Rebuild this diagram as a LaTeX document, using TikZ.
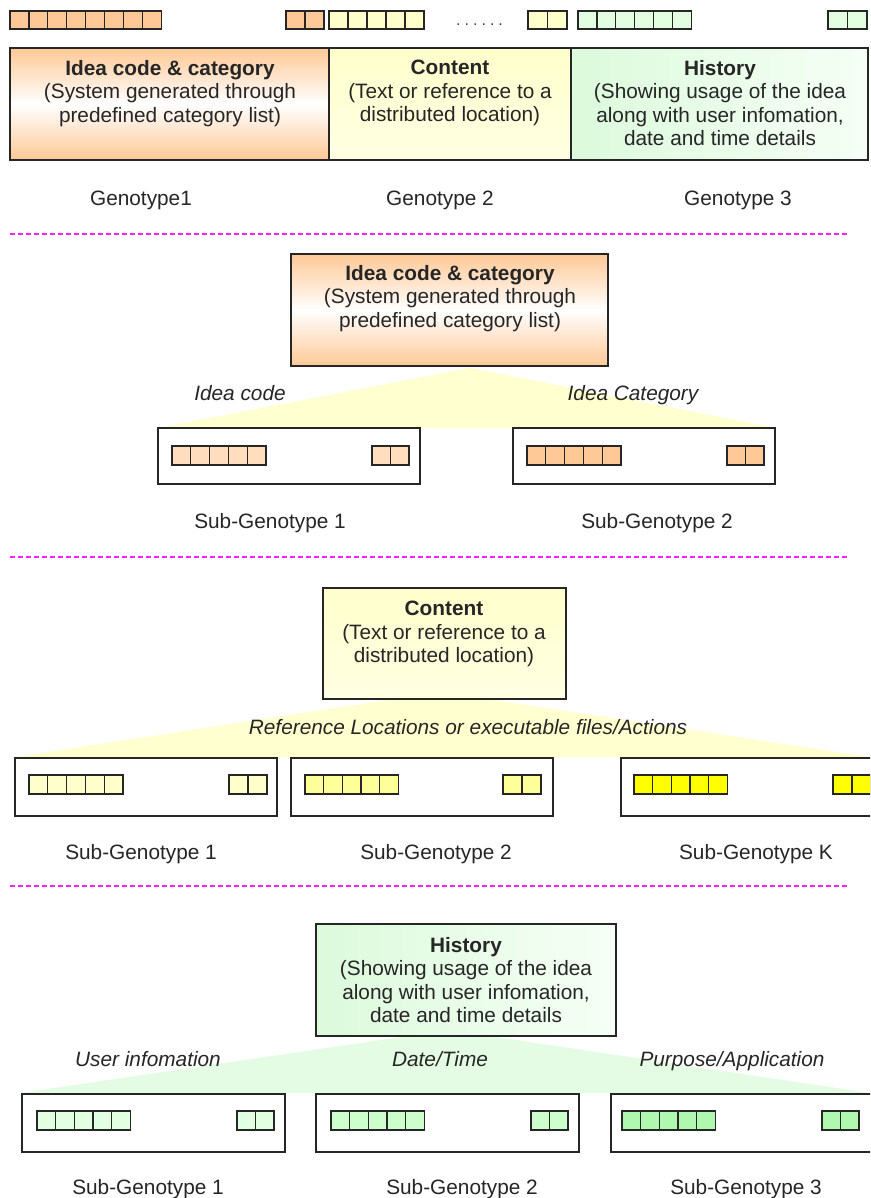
\documentclass[tikz,border=0pt]{standalone}
\usepackage{fontspec}
\setmainfont{Liberation Sans}
\begin{document}
\definecolor{orgA}{HTML}{FFC896}
\definecolor{orgB}{HTML}{FFDDBD}
\definecolor{ylwA}{HTML}{FFFFCC}
\definecolor{ylwB}{HTML}{FFFF99}
\definecolor{ylwC}{HTML}{FFFF00}
\definecolor{grnA}{HTML}{E2FFE2}
\definecolor{grnB}{HTML}{CCFFCC}
\definecolor{grnC}{HTML}{B0F7B0}
\definecolor{grnL}{HTML}{DCFADC}
\definecolor{grnR}{HTML}{F6FFF6}
\definecolor{fanY}{HTML}{FFFFCF}
\definecolor{fanG}{HTML}{E4FCE4}
\definecolor{sepline}{HTML}{FF22FF}
\definecolor{ink}{HTML}{262626}
\newcommand\gcells[6]{% left, top, count, cell width, cell height, fill
  \foreach \k in {1,...,#3}{%
    \draw[cellline, fill=#6] ({#1+(\k-1)*#4},#2) rectangle ++(#4,#5);}}
\begin{tikzpicture}[x=1pt, y=-1pt,
  cellline/.style={draw=ink, line width=1.3pt},
  boxline/.style={draw=ink, line width=1.5pt},
  orgshade/.style={boxline, top color=orgA, bottom color=orgA, middle color=white},
  ylwshade/.style={boxline, top color=ylwA, bottom color=ylwA!55},
  grnshade/.style={boxline, left color=grnL, right color=grnR},
  subbox/.style={draw=ink, line width=1.4pt, fill=white},
  sep/.style={draw=sepline, line width=1.2pt, dash pattern=on 5pt off 3pt},
  txt/.style={font=\fontsize{20.8}{23.5}\selectfont, text=ink, inner sep=0pt},
  hdr/.style={txt, align=center, anchor=north},
  lbl/.style={txt, anchor=base},
  ilbl/.style={txt, anchor=base, font=\fontsize{20.8}{23.5}\selectfont\itshape}]
\useasboundingbox (0,0) rectangle (870,1198);
\fill[white] (0,0) rectangle (870,1198);
\clip (0,0) rectangle (870,1198);

% ---------- genome strip ----------
\gcells{10}{11}{8}{18.9}{18}{orgA}
\gcells{286}{11}{2}{19}{18}{orgA}
\gcells{329}{11}{5}{19}{18}{ylwA}
\node[txt, anchor=base west, font=\fontsize{16}{18}\selectfont, text=black!75] (dots)
  at (456,26) {.\kern4pt.\kern4pt.\kern4pt.\kern4pt.\kern4pt.};
\gcells{528}{11}{2}{19.5}{18}{ylwA}
\gcells{578}{11}{6}{18.9}{18}{grnA}
\gcells{828}{11}{2}{19.5}{18}{grnA}

% ---------- genotype blocks ----------
\draw[orgshade] (10,48) rectangle (329,160);
\draw[ylwshade] (329,48) rectangle (571,160);
\draw[grnshade] (571,48) rectangle (868,160);
\node[hdr] (g1) at (170,60) {\textbf{Idea code \& category}\\(System generated through\\predefined category list)};
\node[hdr] (g2) at (450,60) {\textbf{Content}\\(Text or reference to a\\distributed location)};
\node[hdr] (g3) at (720,60) {\textbf{History}\\(Showing usage of the idea\\along with user infomation,\\date and time details};
\node[lbl] (l1) at (141,206) {Genotype1};
\node[lbl] (l2) at (440,206) {Genotype 2};
\node[lbl] (l3) at (738,206) {Genotype 3};

\draw[sep] (10,234) -- (848,234);

% ---------- idea code & category ----------
\fill[fanY] (470,368) -- (158,428) -- (776,428) -- cycle;
\draw[orgshade] (291,254) rectangle (608,366);
\node[hdr] (c1) at (450,265) {\textbf{Idea code \& category}\\(System generated through\\predefined category list)};
\node[ilbl] (c1a) at (240,400) {Idea code};
\node[ilbl] (c1b) at (633,400) {Idea Category};
\draw[subbox] (158,428) rectangle (420,484);
\gcells{172}{446}{5}{18.8}{19}{orgB}
\gcells{372}{446}{2}{18.5}{19}{orgB}
\draw[subbox] (513,428) rectangle (775,484);
\gcells{527}{446}{5}{18.8}{19}{orgA}
\gcells{727}{446}{2}{18.5}{19}{orgA}
\node[lbl] (c1s1) at (270,528) {Sub-Genotype 1};
\node[lbl] (c1s2) at (657,528) {Sub-Genotype 2};

\draw[sep] (10,557) -- (848,557);

% ---------- content ----------
\fill[fanY] (440,692) -- (15,757) -- (870,757) -- cycle;
\draw[ylwshade] (323,588) rectangle (566,699);
\node[hdr] (c2) at (444,601) {\textbf{Content}\\(Text or reference to a\\distributed location)};
\node[ilbl] (c2a) at (468,734) {Reference Locations or executable files/Actions};
\draw[subbox] (15,758) rectangle (277,816);
\gcells{29}{775}{5}{18.8}{19}{ylwA}
\gcells{229}{775}{2}{19}{19}{ylwA}
\draw[subbox] (291,758) rectangle (553,816);
\gcells{305}{775}{5}{18.7}{19}{ylwB}
\gcells{503}{775}{2}{19}{19}{ylwB}
\draw[subbox] (621,758) rectangle (883,816);
\gcells{634}{775}{5}{18.7}{19}{ylwC}
\gcells{833}{775}{2}{19}{19}{ylwC}
\node[lbl] (c2s1) at (141,859) {Sub-Genotype 1};
\node[lbl] (c2s2) at (436,859) {Sub-Genotype 2};
\node[lbl] (c2s3) at (756,859) {Sub-Genotype K};

\draw[sep] (10,886) -- (848,886);

% ---------- history ----------
\fill[fanG] (449,1030) -- (20,1093) -- (870,1093) -- cycle;
\draw[grnshade] (316,924) rectangle (616,1036);
\node[hdr] (c3) at (466,937) {\textbf{History}\\(Showing usage of the idea\\along with user infomation,\\date and time details};
\node[ilbl] (c3a) at (148,1066) {User infomation};
\node[ilbl] (c3b) at (440,1066) {Date/Time};
\node[ilbl] (c3c) at (732,1066) {Purpose/Application};
\draw[subbox] (22,1094) rectangle (285,1152);
\gcells{37}{1111}{5}{18.7}{19}{grnA}
\gcells{237}{1111}{2}{18.5}{19}{grnA}
\draw[subbox] (316,1094) rectangle (579,1152);
\gcells{331}{1111}{5}{18.7}{19}{grnB}
\gcells{531}{1111}{2}{18.5}{19}{grnB}
\draw[subbox] (611,1094) rectangle (874,1152);
\gcells{622}{1111}{5}{18.7}{19}{grnC}
\gcells{822}{1111}{2}{18.5}{19}{grnC}
\node[lbl] (c3s1) at (148,1194) {Sub-Genotype 1};
\node[lbl] (c3s2) at (462,1194) {Sub-Genotype 2};
\node[lbl] (c3s3) at (746,1194) {Sub-Genotype 3};
\end{tikzpicture}
\end{document}
